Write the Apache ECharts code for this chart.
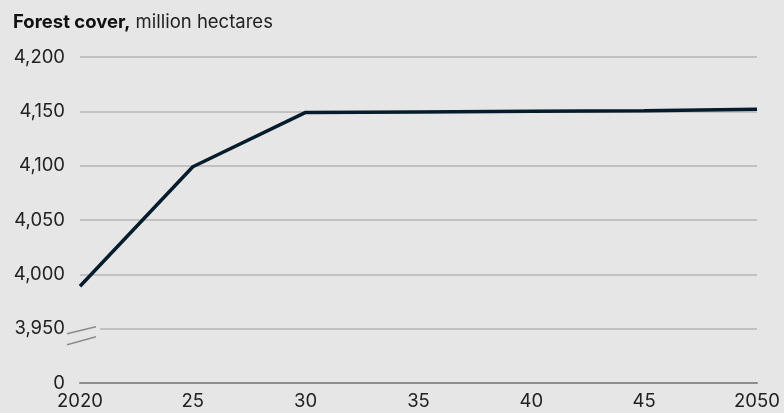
<!DOCTYPE html>
<html>
<head>
<meta charset="utf-8">
<script src="https://cdn.jsdelivr.net/npm/echarts@6/dist/echarts.min.js"></script>
<style>
html,body{margin:0;padding:0;background:#e6e6e6;}
#main{width:784px;height:413px;}
</style>
</head>
<body>
<div id="main"></div>
<script>
// forest cover, million hectares
var years = [2020, 2025, 2030, 2035, 2040, 2045, 2050];
var forestCover = [3989, 4099, 4149, 4149.5, 4150, 4150.5, 4152];
var yTicks = [0, 3950, 4000, 4050, 4100, 4150, 4200];
var breakBase = 3900; // axis is broken between 0 and 3950

var FONT = 'Inter';
var myChart = echarts.init(document.getElementById('main'));

// values above the break are shifted down so 3950 sits one step above 0
function toAxis(v){ return v === 0 ? 0 : v - breakBase; }
function fmtNum(v){ return String(v).replace(/\B(?=(\d{3})+(?!\d))/g, ','); }

var option = {
    backgroundColor: '#e6e6e6',
    animation: false,
    title: {
        text: '{b|Forest cover,} {n|million hectares}',
        left: 8,
        top: 8,
        textStyle: {
            fontWeight: 'normal',
            rich: {
                b: {fontFamily: FONT, fontSize: 18.5, fontWeight: 'bold', color: '#111'},
                n: {fontFamily: FONT, fontSize: 18.5, fontWeight: 'normal', color: '#222'}
            }
        }
    },
    grid: {left: 80, right: 27, top: 57, bottom: 30},
    xAxis: {
        type: 'value',
        min: 2020,
        max: 2050,
        interval: 5,
        axisLine: {show: true, lineStyle: {color: '#8c8c8c', width: 2}},
        axisTick: {show: false},
        splitLine: {show: false},
        axisLabel: {
            margin: 9,
            fontFamily: FONT,
            fontSize: 18.5,
            color: '#222',
            formatter: function (v) {
                if (v === 2020 || v === 2050) return String(v);
                return String(v).slice(2);
            }
        }
    },
    yAxis: {
        type: 'value',
        min: 0,
        max: toAxis(yTicks[yTicks.length - 1]),
        interval: 50,
        axisLine: {show: false},
        axisTick: {show: false},
        splitLine: {show: true, lineStyle: {color: '#b5b5b5', width: 1.5}},
        axisLabel: {
            margin: 15,
            fontFamily: FONT,
            fontSize: 18.5,
            color: '#222',
            formatter: function (v) {
                if (v === 0) return '0';
                return fmtNum(v + breakBase);
            }
        }
    },
    series: [{
        type: 'line',
        symbol: 'none',
        lineStyle: {color: '#051c2c', width: 3.5},
        data: years.map(function (y, i) { return [y, toAxis(forestCover[i])]; })
    }]
};
myChart.setOption(option);

// break marks next to the 3,950 line
var p = myChart.convertToPixel({gridIndex: 0}, [2020, toAxis(3950)]);
myChart.setOption({
    graphic: [
        {type: 'rect', shape: {x: p[0] - 3, y: p[1] - 2, width: 23, height: 4}, style: {fill: '#e6e6e6'}, z: 10},
        {type: 'line', shape: {x1: p[0] - 13, y1: p[1] + 5, x2: p[0] + 16, y2: p[1] - 2}, style: {stroke: '#8c8c8c', lineWidth: 1.5}, z: 11},
        {type: 'line', shape: {x1: p[0] - 13, y1: p[1] + 16, x2: p[0] + 16, y2: p[1] + 8}, style: {stroke: '#8c8c8c', lineWidth: 1.5}, z: 11}
    ]
});
</script>
</body>
</html>
